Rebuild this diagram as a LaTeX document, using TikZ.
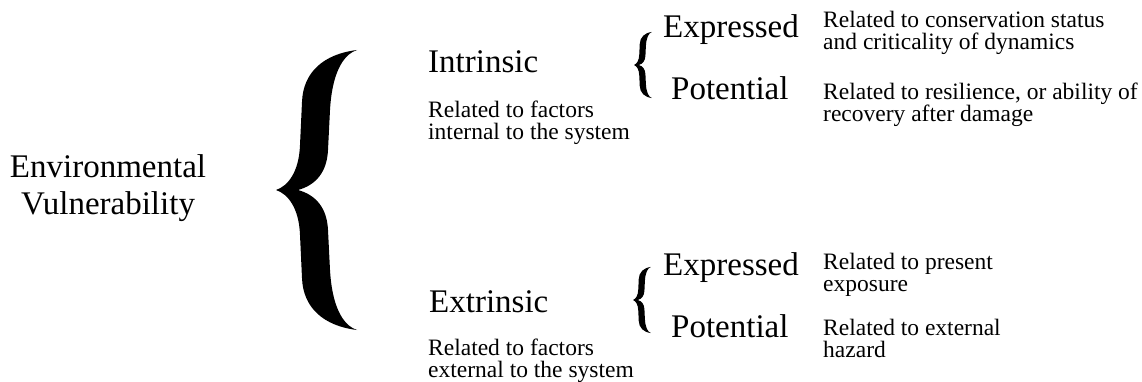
\documentclass[tikz,border=0pt]{standalone}
\usepackage{fontspec}
\setmainfont{Liberation Serif}
\usepackage{tikz}

% curly brace, tip at the origin, opening to the right
\tikzset{pics/curly/.style={code={
  \fill (81,-140) .. controls (48,-136) and (27,-118) .. (26,-88)
    -- (24,-45) .. controls (23,-18) and (12,-4) .. (0,0)
    .. controls (12,4) and (23,18) .. (24,45)
    -- (26,88) .. controls (27,118) and (48,136) .. (81,140)
    .. controls (66,135) and (56,115) .. (54,80)
    -- (52,40) .. controls (51,18) and (40,5) .. (22,0)
    .. controls (40,-5) and (51,-18) .. (52,-40)
    -- (54,-80) .. controls (56,-115) and (66,-135) .. (81,-140) -- cycle;
}}}

\begin{document}
\begin{tikzpicture}[x=1pt,y=-1pt,
  big/.style={inner sep=0,anchor=base west,font=\fontsize{33}{36}\selectfont},
  note/.style={inner sep=0,anchor=base west,align=left,font=\fontsize{23.5}{22}\selectfont}]
\useasboundingbox (0,0) rectangle (1142,382);

% base of a two-line node = baseline of its last line
\node[big,anchor=base,align=center] (env) at (108,214) {Environmental\\Vulnerability};
\pic at (276,190) {curly};

%intrinsic
\node[big] (intr) at (428,73) {Intrinsic};
\node[note] (intrnote) at (428,140) {Related to factors\\internal to the system};
\pic[xscale=0.22,yscale=0.236] at (634,65) {curly};
\node[big] (ie) at (663,38) {Expressed};
\node[big] (ip) at (671,100) {Potential};
\node[note] (ienote) at (823,50) {Related to conservation status\\and criticality of dynamics};
\node[note] (ipnote) at (823,122) {Related to resilience, or ability of\\recovery after damage};

%extrinsic
\node[big] (extr) at (429,312) {Extrinsic};
\node[note] (extrnote) at (428,377) {Related to factors\\external to the system};
\pic[xscale=0.22,yscale=0.236] at (633,300) {curly};
\node[big] (ee) at (663,275) {Expressed};
\node[big] (ep) at (671,337) {Potential};
\node[note] (eenote) at (823,291) {Related to present\\exposure};
\node[note] (epnote) at (823,357) {Related to external\\hazard};
\end{tikzpicture}
\end{document}
